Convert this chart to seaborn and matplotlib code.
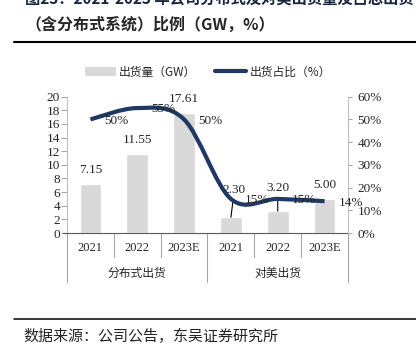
import numpy as np
import pandas as pd
import matplotlib.pyplot as plt
import seaborn as sns
from matplotlib.path import Path
from matplotlib.patches import PathPatch, Patch
from matplotlib.lines import Line2D

# dados
anos = ['2021', '2022', '2023E', '2021', '2022', '2023E']
grupos = ['分布式出货', '对美出货']
chaves = ['分布式-2021', '分布式-2022', '分布式-2023E', '对美-2021', '对美-2022', '对美-2023E']
volume = [7.15, 11.55, 17.61, 2.30, 3.20, 5.00]
percent = [0.50, 0.55, 0.50, 0.15, 0.15, 0.14]
pct_labels = ['50%', '55%', '50%', '15%', '15%', '14%']

df = pd.DataFrame({'cat': chaves, 'vol': volume, 'pct': percent})

sns.set_style('white')
plt.rcParams['font.family'] = ['Liberation Serif', 'Noto Sans CJK SC']
cjk = ['Noto Sans CJK SC', 'DejaVu Sans']

cinza = '#d9d9d9'
azul = '#1f3864'

fig = plt.figure(figsize=(4.16, 3.58), dpi=100)
ax = fig.add_axes([67 / 416, 1 - 233 / 358, (348 - 67) / 416, (233 - 96.7) / 358])

sns.barplot(data=df, x='cat', y='vol', order=chaves, color=cinza, width=0.46,
            saturation=1, ax=ax)
ax.set_xlim(-0.5, 5.5)
ax.set_ylim(0, 20)
ax.set_yticks(range(0, 21, 2))
ax.set_xlabel('')
ax.set_ylabel('')
ax.set_xticks([])
ax.tick_params(axis='y', left=True, length=4, width=0.8, color='#a6a6a6',
               labelsize=9.5, pad=1)

for s in ['top', 'right']:
    ax.spines[s].set_visible(False)
ax.spines['left'].set_color('#bfbfbf')
ax.spines['left'].set_linewidth(0.8)
ax.spines['bottom'].set_color('#595959')
ax.spines['bottom'].set_linewidth(0.8)

# rótulos das barras
offsets = [(0, 10), (0, 10), (0, 10), (2.5, 20), (0, 16.5), (0, 10)]
for i, (v, off) in enumerate(zip(volume, offsets)):
    if off[1] > 10:
        ax.annotate(f'{v:.2f}', xy=(i, v), xytext=off, textcoords='offset points',
                    ha='center', va='center', fontsize=9.5,
                    arrowprops=dict(arrowstyle='-', color='black', lw=0.8,
                                    shrinkA=1, shrinkB=0))
    else:
        ax.annotate(f'{v:.2f}', xy=(i, v), xytext=off, textcoords='offset points',
                    ha='center', va='center', fontsize=9.5)

# eixo secundário com a linha suavizada
ax2 = ax.twinx()
ax2.set_ylim(0, 0.6)
ax2.set_yticks(np.arange(0, 0.61, 0.1))
ax2.set_yticklabels([f'{int(round(t * 100))}%' for t in np.arange(0, 0.61, 0.1)])
ax2.tick_params(axis='y', right=True, length=3, width=0.8, color='#a6a6a6',
                labelsize=9.5, pad=4)
for s in ['top', 'left', 'bottom']:
    ax2.spines[s].set_visible(False)
ax2.spines['right'].set_color('#bfbfbf')
ax2.spines['right'].set_linewidth(0.8)

xs = np.arange(len(percent), dtype=float)
ys = np.array(percent)
pts = np.column_stack([xs, ys])
verts = [tuple(pts[0])]
codes = [Path.MOVETO]
n = len(pts)
for i in range(n - 1):
    p0 = pts[max(i - 1, 0)]
    p1 = pts[i]
    p2 = pts[i + 1]
    p3 = pts[min(i + 2, n - 1)]
    c1 = p1 + (p2 - p0) / 6
    c2 = p2 - (p3 - p1) / 6
    verts += [tuple(c1), tuple(c2), tuple(p2)]
    codes += [Path.CURVE4] * 3
ax2.add_patch(PathPatch(Path(verts, codes), fill=False, edgecolor=azul, lw=3,
                        capstyle='butt', joinstyle='round', zorder=3))

for i, (p, lab) in enumerate(zip(percent, pct_labels)):
    ax2.annotate(lab, xy=(i, p), xytext=(10, -1), textcoords='offset points',
                 ha='left', va='center', fontsize=9.5, zorder=4)

# eixo de categorias em dois níveis
tr = ax.get_xaxis_transform()
for i, a in enumerate(anos):
    ax.text(i, -15 / 136.3, a, transform=tr, ha='center', va='center', fontsize=9)
for g, c in zip(grupos, [1, 4]):
    ax.text(c, -40 / 136.3, g, transform=tr, ha='center', va='center',
            fontsize=8.5, family=cjk)
for xb in np.arange(-0.5, 6, 1.0):
    longo = xb in (-0.5, 2.5, 5.5)
    y1 = -49 / 136.3 if longo else -24 / 136.3
    ax.plot([xb, xb], [0, y1], transform=tr, color='#a6a6a6', lw=0.8,
            clip_on=False)
ax.plot([-0.58, -0.5], [0, 0], transform=tr, color='#595959', lw=0.8, clip_on=False)

# legenda
handles = [Patch(facecolor=cinza, edgecolor='none'),
           Line2D([0], [0], color=azul, lw=3)]
leg = fig.legend(handles, ['出货量（GW）', '出货占比（%）'], loc='center',
                 bbox_to_anchor=(0.5, 1 - 72 / 358), ncol=2, frameon=False,
                 handlelength=2.6, handletextpad=0.3, columnspacing=1.6,
                 prop={'family': cjk, 'size': 8.5})

# título e fonte
fig.text(25 / 416, 1.0 + 1 / 358, '图23：2021-2023 年公司分布式及对美出货量及占总出货',
         ha='left', va='center', fontsize=11, fontweight='bold', family=cjk,
         color='#1a2540')
fig.text(25 / 416, 1 - 25 / 358, '（含分布式系统）比例（GW，%）', ha='left',
         va='center', fontsize=11.5, fontweight='bold', family=cjk)
fig.add_artist(Line2D([14 / 416, 1], [1 - 41.7 / 358] * 2, color='black', lw=1.5))
fig.add_artist(Line2D([14 / 416, 1], [1 - 319 / 358] * 2, color='black', lw=1.1))
fig.text(23 / 416, 1 - 336 / 358, '数据来源：公司公告，东吴证券研究所', ha='left',
         va='center', fontsize=10.8, family=cjk, color='#222222')

plt.savefig('out.png', dpi=100)
